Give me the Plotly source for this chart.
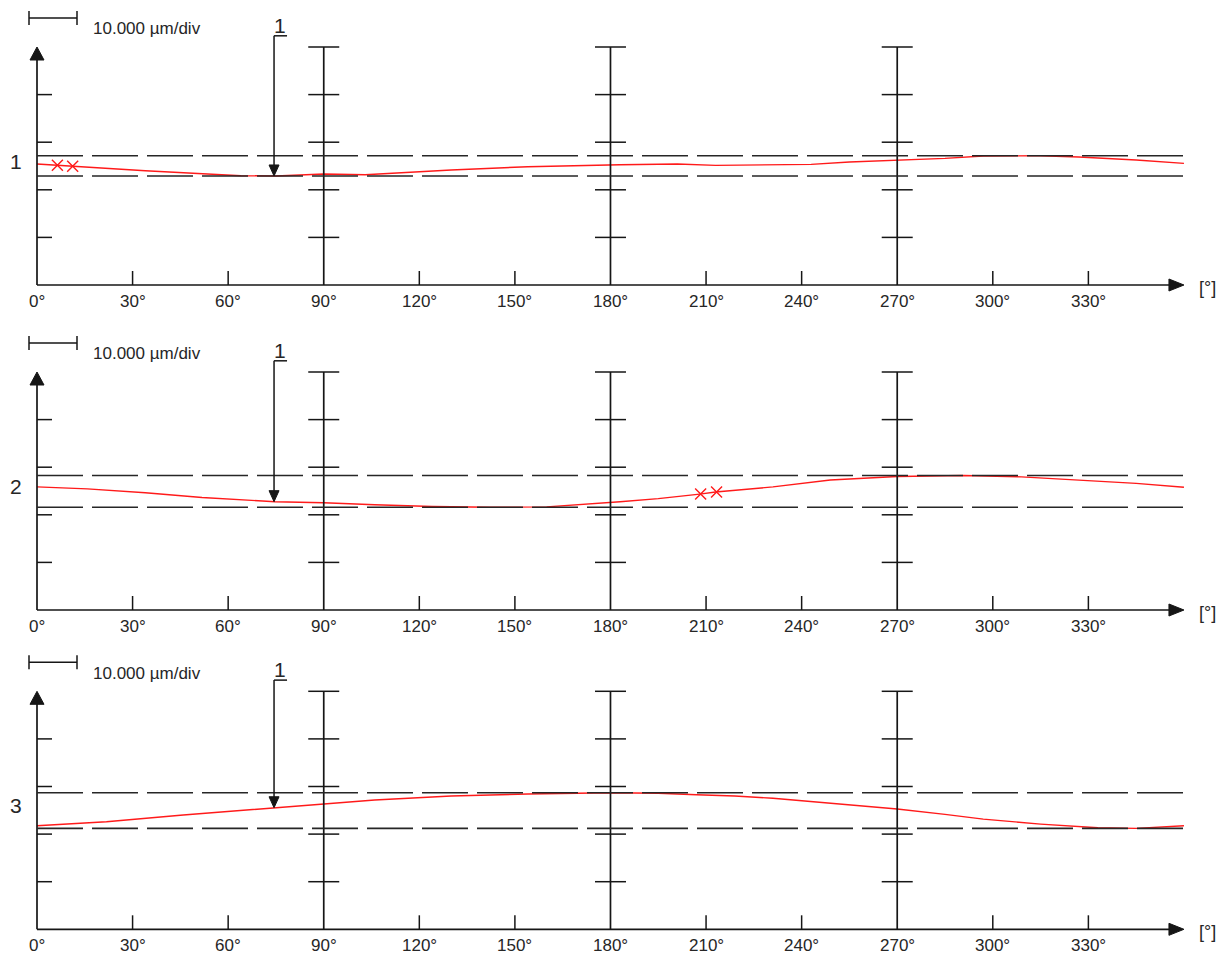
import numpy as np
import plotly.graph_objects as go

# ---------------- data (µm above the base line, angle in degrees) ----------------
angles_1 = [0, 34, 64, 75, 90, 103, 130, 154, 183, 201, 213, 231, 243, 255, 270, 285, 297, 315, 327, 345, 360]
values_1 = [25.42, 24.01, 22.96, 22.90, 23.32, 23.17, 24.16, 24.85, 25.27, 25.42, 25.13, 25.27, 25.34, 25.84,
            26.26, 26.60, 27.10, 27.16, 26.89, 26.26, 25.55]

angles_2 = [0, 15.8, 34, 51.8, 74.7, 90, 106, 124, 142, 160, 183, 195, 208, 213, 231, 249, 270, 291, 309, 327, 345, 360]
values_2 = [25.86, 25.44, 24.64, 23.63, 22.75, 22.54, 22.10, 21.74, 21.60, 21.66, 22.75, 23.40, 24.35, 24.79,
            25.86, 27.31, 28.05, 28.26, 27.96, 27.31, 26.60, 25.80]

angles_3 = [0, 21.8, 45.9, 74.7, 90, 106, 130, 154, 180, 195, 207, 219, 231, 243, 255, 270, 285, 297, 315, 333, 345, 360]
values_3 = [21.76, 22.61, 24.01, 25.55, 26.45, 27.16, 28.00, 28.42, 28.70, 28.57, 28.28, 28.00, 27.52, 26.83,
            26.11, 25.27, 24.14, 23.15, 22.10, 21.32, 21.20, 21.76]

marker_angles_1 = [6.4, 11.2]
marker_angles_2 = [208.3, 213.3]
marker_angles_3 = []

panel_labels = ["1", "2", "3"]
x_tick_degrees = [0, 30, 60, 90, 120, 150, 180, 210, 240, 270, 300, 330]
x_tick_labels = ["0°", "30°", "60°", "90°", "120°", "150°", "180°", "210°", "240°", "270°", "300°", "330°"]
major_degrees = [90, 180, 270]
y_div_values = [10, 20, 30, 40]
y_top = 50
scale_text = "10.000 µm/div"
unit_text = "[°]"
arrow_angle = 74.4
arrow_text = "1"

panels = [
    (angles_1, values_1, marker_angles_1),
    (angles_2, values_2, marker_angles_2),
    (angles_3, values_3, marker_angles_3),
]

# ---------------- layout geometry ----------------
W, H = 1228, 956
PX_PER_DEG = 3.186
PX_PER_UM = 4.76
X0_PX = 37
baselines_px = [285, 610, 929.3]

x_range = [(0 - X0_PX) / PX_PER_DEG, (W - X0_PX) / PX_PER_DEG]


def dx(px):
    return px / PX_PER_DEG


def dy(px):
    return px / PX_PER_UM


FONT = "Liberation Sans, Arial, sans-serif"
TXT = "#262626"
AX = "#161616"

fig = go.Figure()
shapes = []
annotations = []
layout_axes = {}

for i, (ang, val, marks) in enumerate(panels):
    yname = "y" if i == 0 else f"y{i + 1}"
    ykey = "yaxis" if i == 0 else f"yaxis{i + 1}"
    base = baselines_px[i]
    yr = [(base - H) / PX_PER_UM, base / PX_PER_UM]
    ax = dict(range=yr, visible=False, fixedrange=True, domain=[0, 1])
    if i > 0:
        ax["overlaying"] = "y"
    layout_axes[ykey] = ax

    def line(x0, y0, x1, y1, color=AX, width=1.7, dash=None):
        d = dict(type="line", xref="x", yref=yname, x0=x0, y0=y0, x1=x1, y1=y1,
                 line=dict(color=color, width=width))
        if dash:
            d["line"]["dash"] = dash
        shapes.append(d)

    def tri(points):
        p = "M " + " L ".join(f"{x},{y}" for x, y in points) + " Z"
        shapes.append(dict(type="path", xref="x", yref=yname, path=p,
                           fillcolor=AX, line=dict(color=AX, width=1)))

    # y axis + arrow
    line(0, 0, 0, y_top - dy(6))
    tri([(0, y_top), (-dx(7), y_top - dy(13)), (dx(7), y_top - dy(13))])
    for v in y_div_values:
        line(0, v, dx(15), v, width=1.5)
    # x axis + arrow
    line(0, 0, 360 - dx(6), 0)
    tri([(360, 0), (360 - dx(15), dy(6)), (360 - dx(15), -dy(6))])
    # minor x ticks
    for d in x_tick_degrees:
        if d == 0 or d in major_degrees:
            continue
        line(d, 0, d, dy(14), width=1.5)
    # major vertical lines with cross ticks
    for d in major_degrees:
        line(d, 0, d, y_top)
        for v in y_div_values + [y_top]:
            line(d - dx(15.5), v, d + dx(15.5), v, width=1.5)

    # max / min dashed lines
    vmax, vmin = max(val), min(val)
    for v in (vmax, vmin):
        line(0, v, 360, v, color="#262626", width=1.6, dash="46px,9px")

    # curve
    fig.add_trace(go.Scatter(x=ang, y=val, mode="lines", yaxis=yname, xaxis="x",
                             line=dict(color="#ff1a1a", width=1.4), hoverinfo="skip", showlegend=False))
    if marks:
        fig.add_trace(go.Scatter(x=marks, y=list(np.interp(marks, ang, val)), mode="markers",
                                 yaxis=yname, xaxis="x", hoverinfo="skip", showlegend=False,
                                 marker=dict(symbol="x-thin", size=11, color="#ff1a1a",
                                             line=dict(color="#ff1a1a", width=1.4))))

    # x tick labels
    for d, t in zip(x_tick_degrees, x_tick_labels):
        annotations.append(dict(x=d, y=-dy(16), xref="x", yref=yname, text=t, showarrow=False,
                                xanchor="center", yanchor="middle",
                                font=dict(family=FONT, size=17, color=TXT)))
    annotations.append(dict(x=(1207 - X0_PX) / PX_PER_DEG, y=-dy(3), xref="x", yref=yname, text=unit_text,
                            showarrow=False, xanchor="center", yanchor="middle",
                            font=dict(family=FONT, size=18, color=TXT)))
    # panel label
    annotations.append(dict(x=-dx(21), y=26, xref="x", yref=yname, text=panel_labels[i], showarrow=False,
                            xanchor="center", yanchor="middle",
                            font=dict(family=FONT, size=21, color=TXT)))

    # scale bar
    sb_y = 56.1
    sb_x0, sb_x1 = -dx(8), -dx(8) + dx(48)
    line(sb_x0, sb_y, sb_x1, sb_y, width=1.5)
    line(sb_x0, sb_y - dy(7), sb_x0, sb_y + dy(7), width=1.5)
    line(sb_x1, sb_y - dy(7), sb_x1, sb_y + dy(7), width=1.5)
    annotations.append(dict(x=dx(54), y=53.8, xref="x", yref=yname, text=scale_text, showarrow=False,
                            xanchor="left", yanchor="middle",
                            font=dict(family=FONT, size=17, color=TXT)))

    # marker arrow "1"
    tip = float(np.interp(arrow_angle, ang, val))
    hook_y = 52.35
    line(arrow_angle, hook_y, arrow_angle, tip + dy(10), width=1.5)
    tri([(arrow_angle, tip), (arrow_angle - dx(5), tip + dy(11)), (arrow_angle + dx(5), tip + dy(11))])
    line(arrow_angle, hook_y, arrow_angle + dx(13), hook_y, width=1.5)
    annotations.append(dict(x=arrow_angle + dx(6), y=54.5, xref="x", yref=yname, text=arrow_text,
                            showarrow=False, xanchor="center", yanchor="middle",
                            font=dict(family=FONT, size=21, color=TXT)))

fig.update_layout(
    width=W, height=H,
    margin=dict(l=0, r=0, t=0, b=0, pad=0),
    paper_bgcolor="white", plot_bgcolor="white",
    showlegend=False,
    xaxis=dict(range=x_range, visible=False, fixedrange=True, domain=[0, 1]),
    shapes=shapes,
    annotations=annotations,
    **layout_axes,
)

fig.write_html("out.html")
